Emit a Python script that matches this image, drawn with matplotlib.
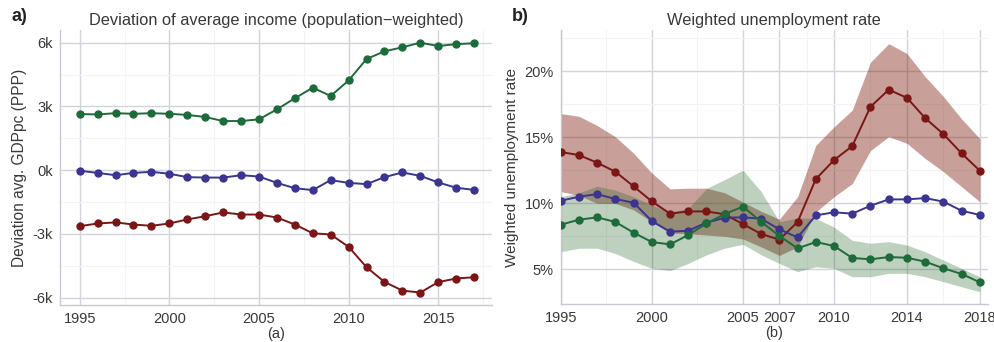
import matplotlib
matplotlib.use("Agg")
import matplotlib.pyplot as plt
import numpy as np
from matplotlib.ticker import FixedLocator, FuncFormatter

plt.rcParams['font.family'] = ['Liberation Sans', 'DejaVu Sans']

# ---- panel a: deviation of average income (PPP), 1995-2017
years_a = list(range(1995, 2018))
inc_green = [2640, 2620, 2680, 2650, 2680, 2650, 2600, 2500, 2310, 2310, 2390, 2860,
             3380, 3880, 3490, 4220, 5230, 5590, 5780, 6000, 5840, 5930, 5970]
inc_blue = [-30, -130, -240, -130, -80, -170, -330, -350, -350, -240, -300, -600,
            -850, -940, -470, -600, -660, -330, -110, -270, -580, -830, -930]
inc_red = [-2640, -2510, -2460, -2560, -2620, -2510, -2320, -2170, -1990, -2090, -2090, -2230,
           -2560, -2970, -3030, -3610, -4570, -5260, -5670, -5760, -5270, -5100, -5040]

# ---- panel b: weighted unemployment rate (%), 1995-2018
years_b = list(range(1995, 2019))
un_red = [13.89, 13.66, 13.08, 12.40, 11.29, 10.15, 9.22, 9.39, 9.39, 9.17, 8.43, 7.68,
          7.25, 8.59, 11.84, 13.28, 14.34, 17.32, 18.61, 18.00, 16.46, 15.25, 13.79, 12.47]
un_red_hi = [16.8, 16.6, 15.9, 15.05, 13.8, 12.3, 11.1, 11.15, 11.15, 10.8, 10.1, 9.4,
             8.8, 10.5, 14.4, 15.8, 17.07, 20.7, 22.1, 21.36, 19.6, 18.1, 16.4, 14.9]
un_red_lo = [10.9, 10.6, 10.0, 10.0, 9.5, 8.6, 7.75, 7.7, 7.6, 7.5, 7.3, 6.7,
             6.05, 6.7, 9.36, 10.5, 11.5, 14.0, 15.05, 14.55, 13.4, 12.4, 11.26, 10.12]
un_blue = [10.2, 10.5, 10.7, 10.33, 10.05, 8.66, 7.85, 7.93, 8.54, 8.91, 8.94, 8.84,
           8.03, 7.42, 9.09, 9.32, 9.22, 9.82, 10.3, 10.3, 10.4, 10.13, 9.44, 9.12]
un_green = [8.38, 8.76, 8.94, 8.59, 7.78, 7.07, 6.89, 7.6, 8.48, 9.19, 9.75, 8.61,
            7.53, 6.59, 7.07, 6.77, 5.86, 5.76, 5.93, 5.88, 5.58, 5.08, 4.65, 4.02]
un_green_hi = [10.5, 10.8, 11.3, 11.0, 10.5, 9.87, 9.36, 9.6, 11.14, 11.8, 12.52, 10.9,
               8.6, 8.9, 8.86, 8.2, 7.2, 6.97, 7.1, 6.84, 6.33, 5.7, 5.07, 4.44]
un_green_lo = [6.34, 6.6, 6.6, 6.2, 5.6, 5.08, 4.9, 5.45, 6.1, 6.6, 6.9, 6.1,
               5.45, 4.82, 5.2, 5.07, 4.44, 4.44, 4.7, 4.7, 4.44, 4.06, 3.68, 3.3]

xticks_a = [1995, 2000, 2005, 2010, 2015]
yticks_a = [-6000, -3000, 0, 3000, 6000]
xticks_b = [1995, 2000, 2005, 2007, 2010, 2014, 2018]
yticks_b = [5, 10, 15, 20]

c_green = '#1d6b3b'
c_blue = '#3b3490'
c_red = '#7a1616'
grid_c = '#d3d3db'
txt_c = '#383838'

fig = plt.figure(figsize=(9.95, 3.42), dpi=100)
ax1 = fig.add_axes([0.0603, 0.108, 0.4342, 0.804])
ax2 = fig.add_axes([0.5635, 0.111, 0.4295, 0.801])


def style(ax):
    ax.set_facecolor('white')
    for s in ['top', 'right']:
        ax.spines[s].set_visible(False)
    for s in ['left', 'bottom']:
        ax.spines[s].set_color('#c8c8d0')
        ax.spines[s].set_linewidth(1.0)
    ax.grid(True, which='major', color=grid_c, linewidth=1.0, zorder=0)
    ax.grid(True, which='minor', color='#f3f3f6', linewidth=0.8, zorder=0)
    ax.tick_params(which='both', length=0, labelsize=10.5, colors=txt_c, pad=5)
    ax.set_axisbelow(True)


# panel a
style(ax1)
for vals, c in [(inc_green, c_green), (inc_blue, c_blue), (inc_red, c_red)]:
    ax1.plot(years_a, vals, color=c, lw=1.4, marker='o', ms=5, zorder=3)
ax1.set_xlim(1993.9, 2018.0)
ax1.set_ylim(-6350, 6590)
ax1.xaxis.set_major_locator(FixedLocator(xticks_a))
ax1.xaxis.set_minor_locator(FixedLocator([1997.5, 2002.5, 2007.5, 2012.5, 2017.5]))
ax1.yaxis.set_major_locator(FixedLocator(yticks_a))
ax1.yaxis.set_minor_locator(FixedLocator([-4500, -1500, 1500, 4500]))
ax1.yaxis.set_major_formatter(FuncFormatter(lambda v, p: '%dk' % int(round(v / 1000))))
ax1.set_title('Deviation of average income (population\u2212weighted)', fontsize=11.8,
              color=txt_c, pad=4)
ax1.set_ylabel('Deviation avg. GDPpc (PPP)', fontsize=11.2, color=txt_c, labelpad=4)
ax1.set_xlabel('(a)', fontsize=10.5, color=txt_c, labelpad=1)

# panel b
style(ax2)
ax2.fill_between(years_b, un_red_lo, un_red_hi, color='#761200', alpha=0.4, lw=0, zorder=1)
ax2.fill_between(years_b, un_green_lo, un_green_hi, color='#286428', alpha=0.3, lw=0, zorder=1)
for vals, c in [(un_red, c_red), (un_blue, c_blue), (un_green, c_green)]:
    ax2.plot(years_b, vals, color=c, lw=1.4, marker='o', ms=5, zorder=3)
ax2.set_xlim(1995, 2018.45)
ax2.set_ylim(2.37, 23.13)
ax2.xaxis.set_major_locator(FixedLocator(xticks_b))
ax2.xaxis.set_minor_locator(FixedLocator([1997.5, 2002.5, 2008.5, 2012, 2016]))
ax2.yaxis.set_major_locator(FixedLocator(yticks_b))
ax2.yaxis.set_minor_locator(FixedLocator([7.5, 12.5, 17.5, 22.5]))
ax2.yaxis.set_major_formatter(FuncFormatter(lambda v, p: '%d%%' % int(round(v))))
ax2.set_title('Weighted unemployment rate', fontsize=11.8, color=txt_c, pad=4)
ax2.set_ylabel('Weighted unemployment rate', fontsize=11, color=txt_c, labelpad=4)
ax2.set_xlabel('(b)', fontsize=10.5, color=txt_c, labelpad=1)

fig.text(0.012, 0.94, 'a)', fontsize=13, fontweight='bold', color='#222222')
fig.text(0.514, 0.94, 'b)', fontsize=13, fontweight='bold', color='#222222')

fig.savefig('out.png', dpi=100, facecolor='white')
